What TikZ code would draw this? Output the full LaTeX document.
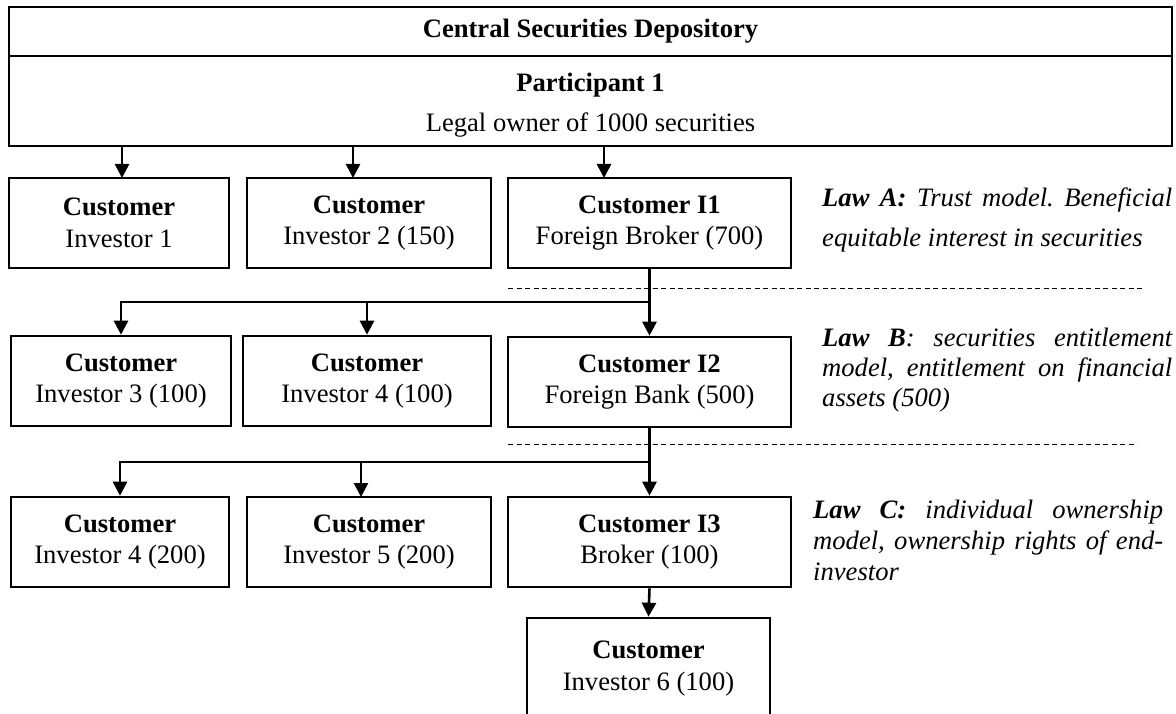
\documentclass[tikz,border=0pt]{standalone}
\usepackage{fontspec}
\setmainfont{Liberation Serif}
\usetikzlibrary{arrows.meta}
\newcommand\boxfs{\fontsize{26.6}{31.5}\selectfont}
\frenchspacing
\begin{document}
\begin{tikzpicture}[x=1pt,y=-1pt,
  box/.style={draw, line width=2.6pt, align=center, inner sep=0pt, font=\boxfs},
  arr/.style={line width=2.6pt, -{Triangle[width=14pt,length=14pt]}},
  ln/.style={line width=2.6pt},
  sep/.style={line width=1pt, dash pattern=on 5pt off 3.5pt},
  law/.style={anchor=west, inner sep=0pt, align=left}
]
\clip (0,0) rectangle (1176,714);
% top boxes
\node[box, minimum width=1163pt, minimum height=49pt] (csd) at (590.5,31.5) {\textbf{Central Securities Depository}};
\node[box, minimum width=1163pt, minimum height=90pt] (part) at (590.5,101) {};
\node[align=center, inner sep=0pt, font=\fontsize{26.6}{40}\selectfont] (parttxt) at (590.5,105) {\textbf{Participant 1}\\Legal owner of 1000 securities};
% row 1
\node[box, minimum width=220pt, minimum height=90pt] (c1) at (119,223) {\textbf{Customer}\\Investor 1};
\node[box, minimum width=244pt, minimum height=90pt] (c2) at (369,223) {\textbf{Customer}\\Investor 2 (150)};
\node[box, minimum width=283pt, minimum height=90pt] (i1) at (649.5,223) {\textbf{Customer I1}\\Foreign Broker (700)};
% row 2
\node[box, minimum width=220pt, minimum height=90pt] (c3) at (121,381) {\textbf{Customer}\\Investor 3 (100)};
\node[box, minimum width=248pt, minimum height=90pt] (c4) at (367,381) {\textbf{Customer}\\Investor 4 (100)};
\node[box, minimum width=283pt, minimum height=90pt] (i2) at (649.5,382) {\textbf{Customer I2}\\Foreign Bank (500)};
% row 3
\node[box, minimum width=218pt, minimum height=90pt] (c5) at (120,542) {\textbf{Customer}\\Investor 4 (200)};
\node[box, minimum width=244pt, minimum height=90pt] (c6) at (369,542) {\textbf{Customer}\\Investor 5 (200)};
\node[box, minimum width=283pt, minimum height=90pt] (i3) at (649.5,542) {\textbf{Customer I3}\\Broker (100)};
% bottom
\node[box, minimum width=243pt, minimum height=101pt] (inv6) at (648.5,668.5) {\textbf{Customer}\\Investor 6 (100)};
% arrows from participant
\coordinate (a1) at (122,178);
\coordinate (a2) at (353,178);
\coordinate (a3) at (604,178);
\draw[arr] (part.south -| a1) -- (a1);
\draw[arr] (part.south -| a2) -- (a2);
\draw[arr] (part.south -| a3) -- (a3);
% row 2 connectors
\coordinate (h1) at (121,302);
\draw[arr] (i1.south) -- (i2.north);
\draw[arr] (h1 -| i1.south) -- (h1) -- (c3.north);
\draw[arr] (h1 -| c4.north) -- (c4.north);
% row 3 connectors
\coordinate (h2) at (120,462);
\coordinate (b6) at (361,497);
\draw[arr] (i2.south) -- (i3.north);
\draw[arr] (h2 -| i2.south) -- (h2) -- (c5.north);
\draw[arr] (b6 |- h2) -- (b6);
\draw[arr] (i3.south) -- (inv6.north);
% separators
\coordinate (d1s) at (508,289);
\coordinate (d1e) at (1143,289);
\coordinate (d2s) at (508,444);
\coordinate (d2e) at (1137,444);
\draw[sep] (d1s) -- (d1e);
\draw[sep] (d2s) -- (d2e);
% laws
\node[law, font=\fontsize{26.6}{40}\selectfont\itshape] (lawA) at (822,220)
  {\makebox[350pt][s]{\textbf{Law A:} Trust model. Beneficial}\\equitable interest in securities};
\node[law, font=\fontsize{26.6}{30}\selectfont\itshape] (lawB) at (822,370)
  {\makebox[350pt][s]{\textbf{Law B}: securities entitlement}\\\makebox[350pt][s]{model, entitlement on financial}\\assets (500)};
\node[law, font=\fontsize{26.6}{31}\selectfont\itshape] (lawC) at (813,540)
  {\makebox[350pt][s]{\textbf{Law C:} individual ownership}\\\makebox[350pt][s]{model, ownership rights of end-}\\investor};
\end{tikzpicture}
\end{document}
